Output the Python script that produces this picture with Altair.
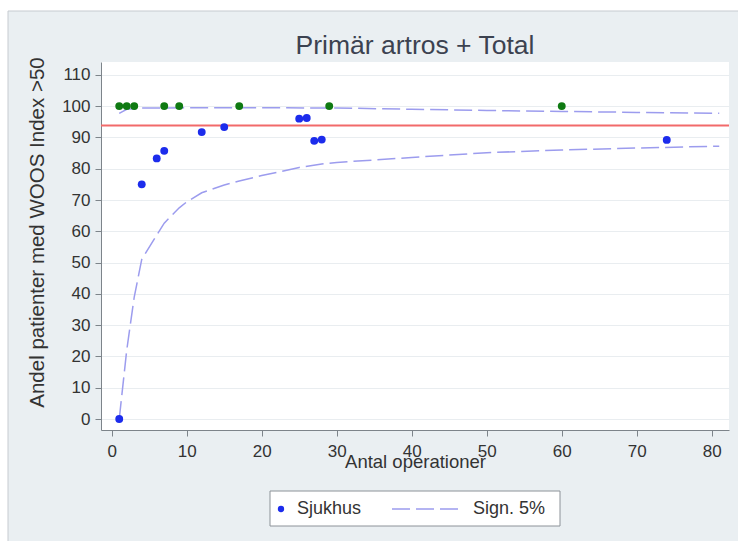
import altair as alt
import pandas as pd

# Hospitals: number of operations and share of patients with WOOS index > 50
hosp_n = [1, 4, 6, 7, 12, 15, 25, 26, 27, 28, 74]
hosp_pct = [0, 75, 83.3, 85.7, 91.7, 93.3, 96, 96.2, 88.9, 89.3, 89.2]

# Hospitals where every patient reached the threshold
full_n = [1, 2, 3, 7, 9, 17, 29, 60]
full_pct = [100, 100, 100, 100, 100, 100, 100, 100]

# National level
national_pct = [93.8]

# 5% significance limits (funnel)
upper_n = [1, 2, 4, 15, 30, 40, 50, 60, 70, 81]
upper_pct = [97.7, 99.0, 99.4, 99.5, 99.4, 99.0, 98.6, 98.3, 98.0, 97.7]
lower_n = [1, 2, 3, 4, 6, 7, 9, 10, 12, 15, 17, 20, 25, 28, 30, 40, 50, 60, 70, 81]
lower_pct = [0, 22, 39, 51, 58.8, 62.6, 67.5, 69.4, 72.3, 74.8, 76.1, 77.8,
             80.4, 81.5, 82, 83.6, 85.1, 86, 86.6, 87.2]

x_ticks = [0, 10, 20, 30, 40, 50, 60, 70, 80]
y_ticks = [0, 10, 20, 30, 40, 50, 60, 70, 80, 90, 100, 110]
legend_labels = ["Sjukhus", "Sign. 5%"]

FONT = "Liberation Sans"
BLUE = "#1c2cec"
GREEN = "#0f7a12"
LAV = "#9c9cee"
RED = "#f26a6a"
BG = "#eaeff2"

W, H = 628, 368
PAD = {"left": 101, "top": 62, "right": 9, "bottom": 111}

hosp = pd.DataFrame({"n": hosp_n, "pct": hosp_pct})
full = pd.DataFrame({"n": full_n, "pct": full_pct})
nat = pd.DataFrame({"pct": national_pct})
limits = pd.concat([
    pd.DataFrame({"n": upper_n, "pct": upper_pct, "side": "upper"}),
    pd.DataFrame({"n": lower_n, "pct": lower_pct, "side": "lower"}),
])

xs = alt.Scale(domain=[-1.43, 82.3], nice=False, zero=False)
ys = alt.Scale(domain=[-3.5, 114.1], nice=False, zero=False)

x_axis = alt.Axis(
    values=x_ticks, tickCount=len(x_ticks), grid=False, title="Antal operationer",
    titleX=W / 2, titleY=37, titleBaseline="alphabetic", titleFontSize=18.5,
    labelPadding=7, labelOverlap=False,
)
y_axis = alt.Axis(
    values=y_ticks, tickCount=len(y_ticks), grid=True,
    title="Andel patienter med WOOS Index >50",
    titleAngle=270, titleX=-58, titleY=170, titleAlign="center",
    titleBaseline="alphabetic", titleFontSize=20.5,
    labelPadding=5, labelOverlap=False, labelFlush=False,
)

# Shared encodings so that every data layer carries the same axis definition
x_enc = alt.X("n:Q", scale=xs, axis=x_axis)
y_enc = alt.Y("pct:Q", scale=ys, axis=y_axis)

funnel = alt.Chart(limits).mark_line(
    color=LAV, strokeWidth=1.5, strokeDash=[18, 6]
).encode(x=x_enc, y=y_enc, detail="side:N")

national = alt.Chart(nat).mark_rule(color=RED, strokeWidth=2).encode(y=y_enc)

hosp_pts = alt.Chart(hosp).mark_circle(size=62, color=BLUE, opacity=1).encode(
    x=x_enc, y=y_enc
)

full_pts = alt.Chart(full).mark_circle(size=62, color=GREEN, opacity=1).encode(
    x=x_enc, y=y_enc
)

one = pd.DataFrame({"k": [0]})

# Outer frame: white margin strips and a thin border line
strip_top = alt.Chart(one).mark_rect(color="white").encode(
    x=alt.value(-PAD["left"]), x2=alt.value(W + PAD["right"]),
    y=alt.value(-PAD["top"]), y2=alt.value(-PAD["top"] + 11),
)
strip_left = alt.Chart(one).mark_rect(color="white").encode(
    x=alt.value(-PAD["left"]), x2=alt.value(-PAD["left"] + 8),
    y=alt.value(-PAD["top"]), y2=alt.value(H + PAD["bottom"]),
)
border_h = alt.Chart(one).mark_rule(color="#c6cbd0", strokeWidth=1).encode(
    x=alt.value(-PAD["left"] + 8), x2=alt.value(W + PAD["right"]),
    y=alt.value(-PAD["top"] + 11),
)
border_v = alt.Chart(one).mark_rule(color="#c6cbd0", strokeWidth=1).encode(
    x=alt.value(-PAD["left"] + 8),
    y=alt.value(-PAD["top"] + 11), y2=alt.value(H + PAD["bottom"]),
)

# Legend box below the plot
leg_box = alt.Chart(one).mark_rect(
    fill="white", stroke="#8c9298", strokeWidth=1
).encode(
    x=alt.value(169), x2=alt.value(459), y=alt.value(429), y2=alt.value(464)
)
leg_dot = alt.Chart(one).mark_circle(size=40, color=BLUE, opacity=1).encode(
    x=alt.value(180), y=alt.value(447)
)
leg_txt1 = alt.Chart(one).mark_text(
    align="left", baseline="middle", font=FONT, fontSize=18, color="#333333"
).encode(x=alt.value(196), y=alt.value(447), text=alt.value(legend_labels[0]))
leg_dash = alt.Chart(one).mark_rule(
    color=LAV, strokeWidth=1.5, strokeDash=[18, 6]
).encode(x=alt.value(291), x2=alt.value(362), y=alt.value(447))
leg_txt2 = alt.Chart(one).mark_text(
    align="left", baseline="middle", font=FONT, fontSize=18, color="#333333"
).encode(x=alt.value(372), y=alt.value(447), text=alt.value(legend_labels[1]))

# The frame strips extend the group bounds up to the canvas top,
# so the title is shifted back down with dy.
chart = alt.layer(
    funnel, national, hosp_pts, full_pts,
    strip_top, strip_left, border_h, border_v,
    leg_box, leg_dot, leg_txt1, leg_dash, leg_txt2,
).properties(
    width=W, height=H,
    autosize=alt.AutoSizeParams(type="none"),
    padding=PAD,
    background=BG,
    title=alt.TitleParams(
        "Primär artros + Total", font=FONT, fontSize=26.5, fontWeight="normal",
        color="#3c4250", anchor="middle", offset=8, baseline="alphabetic",
        dy=88,
    ),
).configure_view(
    fill="white", stroke=None
).configure_axis(
    labelFont=FONT, labelFontSize=17, labelColor="#333333",
    titleFont=FONT, titleColor="#333333", titleFontWeight="normal",
    domainColor="#7d848a", tickColor="#7d848a", tickSize=6,
    gridColor="#e9edf0", gridWidth=1,
)

chart.save("out.html", embed_options={"renderer": "svg", "actions": False})
